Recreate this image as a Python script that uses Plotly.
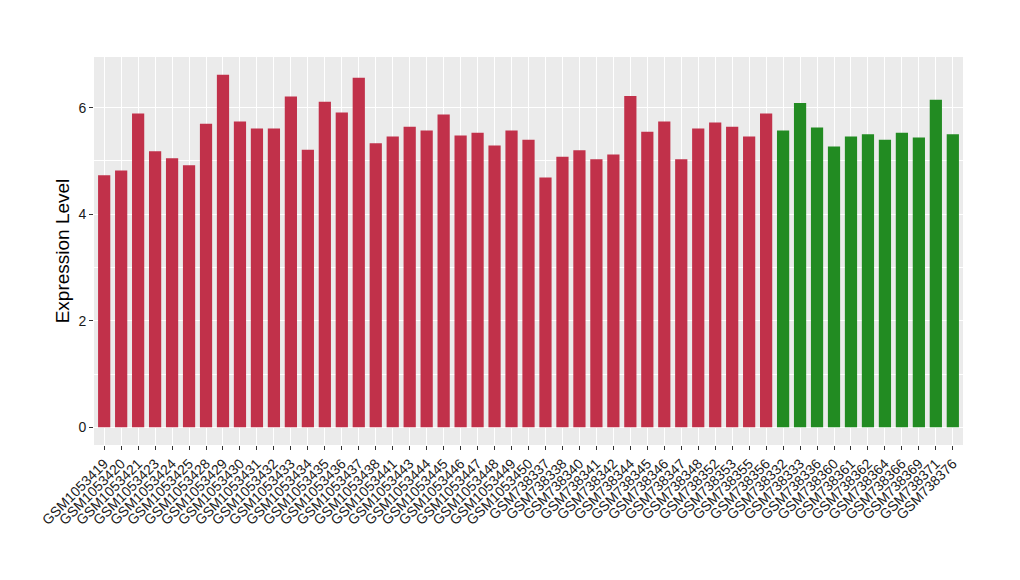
import plotly.graph_objects as go

red_samples = ["GSM1053419","GSM1053420","GSM1053421","GSM1053423","GSM1053424","GSM1053425",
               "GSM1053428","GSM1053429","GSM1053430","GSM1053431","GSM1053432","GSM1053433",
               "GSM1053434","GSM1053435","GSM1053436","GSM1053437","GSM1053438","GSM1053441",
               "GSM1053443","GSM1053444","GSM1053445","GSM1053446","GSM1053447","GSM1053448",
               "GSM1053449","GSM1053450","GSM738337","GSM738338","GSM738340","GSM738341",
               "GSM738342","GSM738344","GSM738345","GSM738346","GSM738347","GSM738348",
               "GSM738352","GSM738353","GSM738355","GSM738356"]
red_values = [4.73,4.82,5.89,5.18,5.05,4.92,5.70,6.62,5.74,5.61,5.61,6.21,5.21,6.11,5.91,6.56,
              5.33,5.46,5.64,5.57,5.87,5.48,5.53,5.29,5.57,5.40,4.69,5.08,5.20,5.03,5.12,6.22,
              5.55,5.74,5.03,5.61,5.72,5.64,5.46,5.89]
green_samples = ["GSM738332","GSM738333","GSM738336","GSM738360","GSM738361","GSM738362",
                 "GSM738364","GSM738366","GSM738369","GSM738371","GSM738376"]
green_values = [5.57,6.09,5.63,5.27,5.46,5.50,5.40,5.53,5.44,6.15,5.50]

categories = red_samples + green_samples
y_ticks = [0, 2, 4, 6]

fig = go.Figure()
fig.add_trace(go.Bar(x=red_samples, y=red_values, marker=dict(color="#C1314A", line=dict(width=0)),
                     showlegend=False))
fig.add_trace(go.Bar(x=green_samples, y=green_values, marker=dict(color="#228B22", line=dict(width=0)),
                     showlegend=False))

fig.update_layout(
    width=1012, height=572,
    margin=dict(l=86, r=57, t=49, b=135),
    paper_bgcolor="white", plot_bgcolor="#EBEBEB",
    bargap=0.28,
    font=dict(family="Liberation Sans, Arial, sans-serif", color="black"),
)
fig.update_xaxes(
    type="category", categoryorder="array", categoryarray=categories,
    tickmode="array", tickvals=categories, ticktext=categories,
    tickangle=-45, tickfont=dict(size=14, color="#1a1a1a"),
    range=[-0.6, len(categories) - 0.4],
    showgrid=True, gridcolor="white", gridwidth=1.1,
    ticks="outside", ticklen=4, tickcolor="#333333", tickwidth=1,
    zeroline=False, showline=False, automargin=False,
)
fig.update_yaxes(
    range=[-0.331, 6.951],
    tickmode="array", tickvals=y_ticks, ticktext=[str(v) for v in y_ticks],
    tickfont=dict(size=14, color="#1a1a1a"),
    showgrid=True, gridcolor="white", gridwidth=1.1,
    minor=dict(showgrid=True, gridcolor="white", gridwidth=0.5, tickmode="array", tickvals=[1, 3, 5]),
    ticks="outside", ticklen=4, tickcolor="#333333", tickwidth=1,
    zeroline=False, showline=False, automargin=False,
    title=dict(text="Expression Level", font=dict(size=19, color="black"), standoff=3),
)

fig.write_html("out.html")
